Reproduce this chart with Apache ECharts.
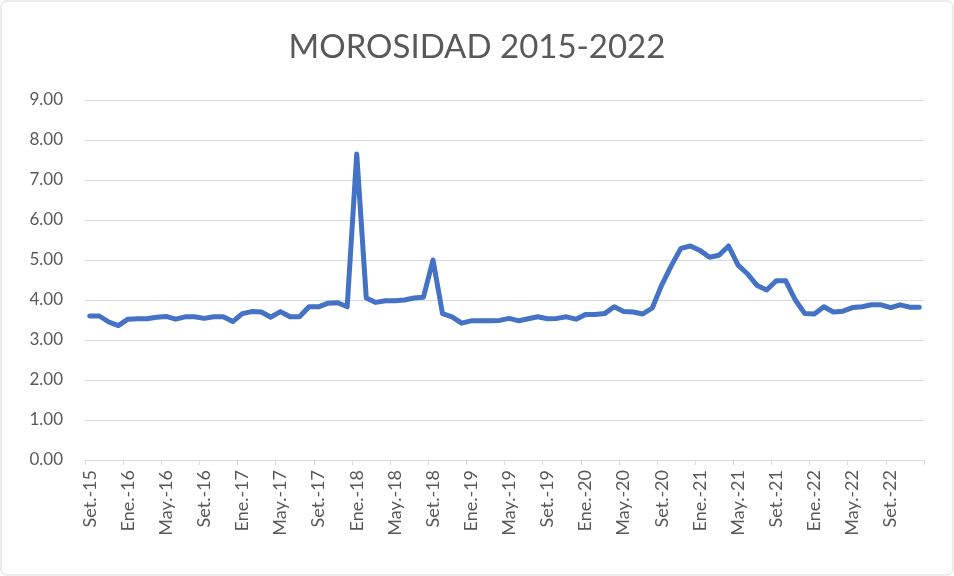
<!DOCTYPE html>
<html>
<head>
<meta charset="utf-8">
<script src="https://cdn.jsdelivr.net/npm/echarts@6/dist/echarts.min.js"></script>
<style>
  html, body { margin: 0; padding: 0; background: #fff; }
  #chart { width: 954px; height: 576px; }
</style>
</head>
<body>
<div id="chart"></div>
<script>
// meses Set.-15 .. Dic.-22
var mesesNombres = ['Ene.', 'Feb.', 'Mar.', 'Abr.', 'May.', 'Jun.', 'Jul.', 'Ago.', 'Set.', 'Oct.', 'Nov.', 'Dic.'];
var meses = [];
for (var a = 2015; a <= 2022; a++) {
	for (var m = 0; m < 12; m++) {
		if (a == 2015 && m < 8) continue;
		meses.push(mesesNombres[m] + '-' + String(a).slice(2));
	}
}

var morosidad = [
	3.60, 3.60, 3.45, 3.36, 3.52, 3.53, 3.53, 3.57, 3.59, 3.52, 3.58, 3.58,
	3.54, 3.58, 3.58, 3.46, 3.66, 3.71, 3.70, 3.57, 3.71, 3.58, 3.58, 3.83,
	3.83, 3.92, 3.93, 3.83, 7.65, 4.05, 3.94, 3.98, 3.98, 4.00, 4.05, 4.07,
	5.00, 3.66, 3.58, 3.42, 3.48, 3.48, 3.48, 3.49, 3.54, 3.48, 3.53, 3.58,
	3.53, 3.54, 3.58, 3.52, 3.64, 3.64, 3.66, 3.83, 3.71, 3.70, 3.65, 3.80,
	4.38, 4.86, 5.29, 5.35, 5.24, 5.07, 5.12, 5.35, 4.87, 4.65, 4.36, 4.25,
	4.48, 4.48, 4.00, 3.66, 3.65, 3.83, 3.70, 3.72, 3.81, 3.83, 3.88, 3.88,
	3.81, 3.88, 3.82, 3.82
];

var yTicks = [0, 1, 2, 3, 4, 5, 6, 7, 8, 9];

var chart = echarts.init(document.getElementById('chart'));
var option = {
	backgroundColor: '#fff',
	animation: false,
	title: {
		text: 'MOROSIDAD 2015-2022',
		left: 'center',
		top: 26,
		textStyle: {
			fontFamily: 'Lato',
			fontSize: 33,
			fontWeight: 'normal',
			color: '#595959'
		}
	},
	graphic: [{
		type: 'rect',
		shape: { x: 1, y: 1, width: 952, height: 574, r: 6 },
		style: { fill: 'none', stroke: '#d9d9d9', lineWidth: 1 },
		silent: true
	}],
	grid: {
		left: 85,
		right: 30,
		top: 100,
		bottom: 116
	},
	xAxis: {
		type: 'category',
		data: meses,
		boundaryGap: true,
		axisLine: { lineStyle: { color: '#d9d9d9', width: 1 } },
		axisTick: { show: true, interval: 3, length: 5, lineStyle: { color: '#d9d9d9' } },
		axisLabel: {
			interval: 3,
			rotate: 90,
			margin: 10,
			fontFamily: 'Lato',
			fontSize: 18,
			color: '#595959'
		},
		splitLine: { show: false }
	},
	yAxis: {
		type: 'value',
		min: yTicks[0],
		max: yTicks[yTicks.length - 1],
		interval: 1,
		axisLine: { show: false },
		axisTick: { show: false },
		axisLabel: {
			margin: 22,
			fontFamily: 'Lato',
			fontSize: 17,
			color: '#595959',
			formatter: function (v) { return v.toFixed(2); }
		},
		splitLine: { lineStyle: { color: '#d9d9d9', width: 1 } }
	},
	series: [{
		name: 'Morosidad',
		type: 'line',
		data: morosidad,
		symbol: 'none',
		smooth: false,
		lineStyle: { color: '#4472c4', width: 5, cap: 'round', join: 'round' }
	}]
};
chart.setOption(option);
</script>
</body>
</html>
